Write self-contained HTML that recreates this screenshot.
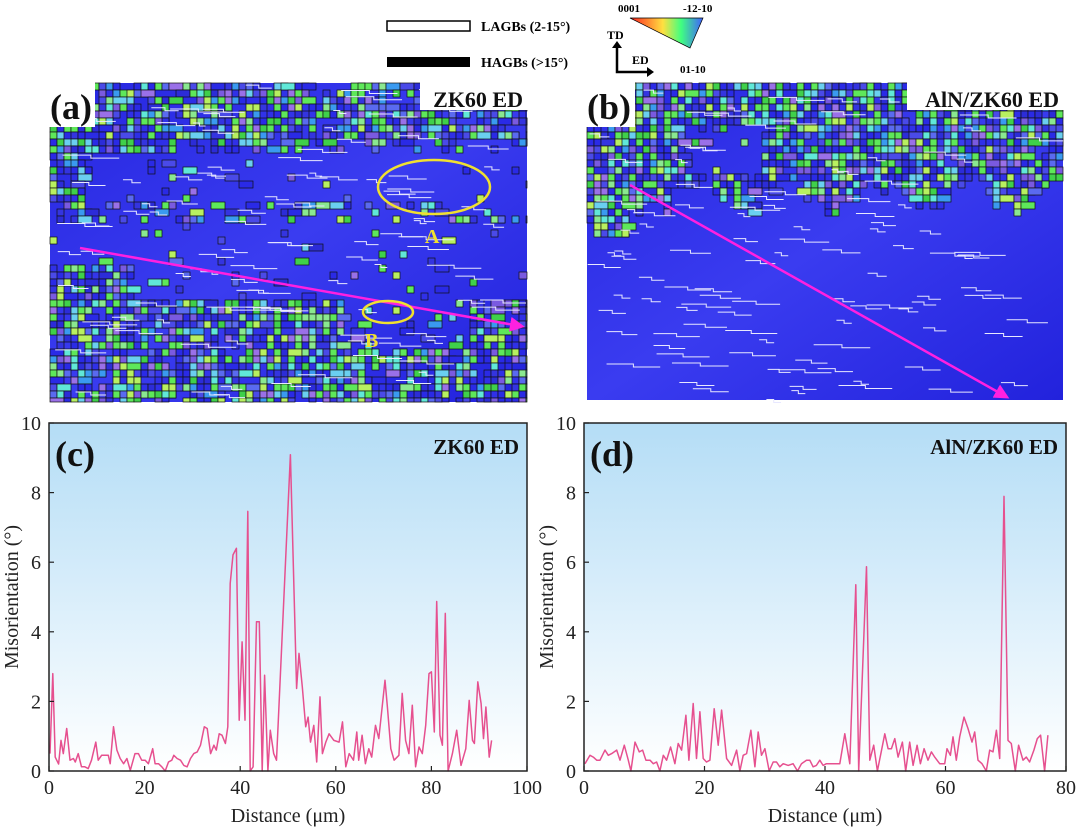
<!DOCTYPE html>
<html><head><meta charset="utf-8">
<style>
html,body{margin:0;padding:0;background:#fff;}
svg{display:block;font-family:"Liberation Serif",serif;}
</style></head>
<body>
<svg id="root" width="1080" height="829" viewBox="0 0 1080 829">
<defs>
<linearGradient id="bg" x1="0" y1="0" x2="0" y2="1">
<stop offset="0" stop-color="#b4ddf6"/><stop offset="1" stop-color="#ffffff"/>
</linearGradient>
<linearGradient id="ipf" x1="0" y1="0" x2="1" y2="0">
<stop offset="0" stop-color="#ff2020"/><stop offset="0.45" stop-color="#ffe040"/><stop offset="0.7" stop-color="#40ff80"/><stop offset="1" stop-color="#4060ff"/>
</linearGradient>
<linearGradient id="blueg" x1="0" y1="0" x2="1" y2="1">
<stop offset="0" stop-color="#2626e0"/><stop offset="0.5" stop-color="#3a3cf0"/><stop offset="1" stop-color="#2222dc"/>
</linearGradient>
<marker id="arrow" markerWidth="6" markerHeight="6" refX="4" refY="3" orient="auto"><path d="M0,0 L6,3 L0,6 z" fill="#ff20e0"/></marker>
</defs>

<g>
<rect x="387" y="21" width="83" height="10" fill="#fff" stroke="#000" stroke-width="1.5"/>
<text x="481" y="31" font-size="14" font-weight="bold">LAGBs (2-15°)</text>
<rect x="387" y="57" width="83" height="10" fill="#000"/>
<text x="481" y="67" font-size="14" font-weight="bold">HAGBs (&gt;15°)</text>
</g>
<g>
<polygon points="630,18 703,18 690,48" fill="url(#ipf)" stroke="#000" stroke-width="0.7"/>
<text x="618" y="12" font-size="11" font-weight="bold">0001</text>
<text x="683" y="12" font-size="11" font-weight="bold">-12-10</text>
<text x="680" y="73" font-size="11" font-weight="bold">01-10</text>
<text x="607" y="39" font-size="12" font-weight="bold">TD</text>
<text x="632" y="64" font-size="12" font-weight="bold">ED</text>
<path d="M617,45 V72 H650" fill="none" stroke="#000" stroke-width="2.5"/>
<path d="M612,48 L617,41 L622,48 z M647,67 L654,72 L647,77 z" fill="#000"/>
</g>

<g id="mapA"></g>
<g id="mapB"></g>

<g id="chartC"></g>
<g id="chartD"></g>
</svg>
<script>
// ---- chart (c) data ----
const cX = [0.2,0.8,1.3,2.0,2.5,3.0,3.7,4.4,5.1,5.5,6.1,6.8,7.5,8.2,8.9,9.8,10.3,11.0,11.7,12.4,12.8,13.5,14.2,14.9,15.6,16.3,17.0,18.0,18.7,19.4,20.1,20.8,21.7,22.2,22.9,23.6,24.3,25.0,25.7,26.1,26.8,27.5,28.2,28.9,29.6,30.3,31.0,31.7,32.5,33.1,33.8,34.5,35.0,35.6,36.2,36.9,37.4,37.9,38.5,39.2,39.8,40.4,41.0,41.6,42.1,42.7,43.4,44.0,44.6,45.1,45.8,46.3,47.0,47.6,50.5,51.8,52.3,53.0,53.7,54.2,54.7,55.4,56.0,56.7,57.2,57.9,58.6,59.6,60.7,61.4,62.1,62.8,63.7,64.4,64.8,65.5,66.2,66.9,67.5,68.3,69.0,70.3,70.8,71.5,72.2,73.2,73.9,74.6,75.3,76.0,76.7,77.4,78.1,78.8,79.5,80.0,80.6,81.1,81.8,82.3,82.9,83.5,84.4,85.3,86.2,87.2,87.9,88.6,89.0,89.7,90.4,90.9,91.4,92.1,92.6];
const cY = [0.5,2.8,0.4,0.2,0.88,0.5,1.22,0.31,0.36,0.26,0.5,0.12,0.12,0.07,0.31,0.83,0.31,0.45,0.45,0.45,0.21,1.27,0.6,0.36,0.21,0.36,0.02,0.5,0.5,0.31,0.31,0.21,0.64,0.21,0.21,0.12,0,0.26,0.31,0.45,0.36,0.31,0.16,0.12,0.36,0.5,0.55,0.74,1.27,1.22,0.5,0.74,0.6,1.07,1.03,0.79,1.27,5.39,6.21,6.4,1.46,3.71,1.46,7.46,0,0.12,4.29,4.29,0,2.75,0,1.17,0.5,0.31,9.09,2.37,3.38,2.42,1.27,1.55,0.83,1.31,0.26,2.13,0.5,0.83,1.07,0.88,0.83,1.41,0.12,0.5,0.31,1.12,0.31,1.03,0.21,0.64,0.4,1.31,0.93,2.61,1.84,0.64,0.31,0.45,2.23,0.88,0.5,1.89,0.12,0.69,0.5,1.31,2.8,2.85,1.12,4.87,1.03,0.74,4.53,0,0.5,1.17,0.16,0.64,2.03,0.88,0.79,2.56,1.94,0.93,1.84,0.4,0.88];
const cXTicks = [0,20,40,60,80,100];
// ---- chart (d) data ----
const dX = [0.17,1.0,1.55,2.1,2.65,3.48,4.04,4.59,5.42,5.97,6.69,7.35,7.79,8.46,9.18,9.73,10.28,10.95,11.5,12.05,12.6,13.16,13.71,14.37,15.09,15.64,16.2,16.92,17.41,18.13,18.68,19.24,19.79,20.34,20.9,21.61,22.28,22.83,23.66,24.49,25.32,25.87,26.42,26.98,27.7,28.36,28.91,29.46,30.02,30.74,31.4,31.95,32.5,33.06,33.89,34.71,35.43,36.1,36.93,37.48,38.03,38.58,39.14,39.69,40.24,41.07,42.45,43.28,44.11,45.11,45.6,46.88,47.43,48.09,48.7,49.92,50.47,51.02,51.58,52.13,52.85,53.4,54.06,54.62,55.28,55.83,56.44,57.1,57.66,58.21,59.04,59.87,60.25,60.81,61.25,61.8,62.35,63.07,63.74,64.4,64.84,65.4,66.06,66.78,67.33,67.88,68.44,68.99,69.71,70.37,70.92,71.59,72.14,72.86,73.41,73.96,74.68,75.24,75.79,76.45,77.0];
const dY = [0.21,0.45,0.4,0.31,0.31,0.6,0.45,0.5,0.6,0.31,0.74,0.31,0,0.83,0.55,0.6,0.31,0.31,0.21,0.26,0,0.45,0.31,0.69,0.21,0.79,0.6,1.6,0.31,1.94,0.36,1.7,0.36,0.26,0.31,1.79,0.74,1.75,0.36,0.16,0.6,0,0.45,0.5,1.17,0.12,1.12,0.45,0.64,0,0.26,0.26,0.12,0.21,0.16,0.21,0,0.21,0.31,0.31,0.12,0.16,0.31,0.16,0.21,0.21,0.21,1.07,0.21,5.35,0,5.87,0.31,0.74,0,1.07,0.64,0.64,0.93,0.4,0.83,0,0.83,0.16,0.74,0.21,0.64,0.31,0.55,0.4,0.21,0.21,0.64,0.45,0.98,0.31,0.98,1.55,1.22,0.83,1.12,0.31,0.21,0,0.6,0.55,1.17,0.36,7.89,0.88,0.79,0,0.74,0.31,0.4,0.26,0.6,0.93,1.03,0,1.03];
const dXTicks = [0,20,40,60,80];
const yTicks = [0,2,4,6,8,10];

const NS = 'http://www.w3.org/2000/svg';
function mk(tag, attrs, parent){const e=document.createElementNS(NS,tag);for(const k in attrs)e.setAttribute(k,attrs[k]);parent.appendChild(e);return e;}

function drawChart(g, xs, ys, xTicks, xMax, x0, x1, label, title){
  const y0=771, y1=423;
  const sx=v=>x0+(v/xMax)*(x1-x0);
  const sy=v=>y0-(v/10)*(y0-y1);
  const bg=mk('rect',{x:x0,y:y1,width:x1-x0,height:y0-y1,fill:'url(#bg)'},g);
  
  
  let d='';
  xs.forEach((v,i)=>{d+=(i?'L':'M')+sx(v).toFixed(1)+','+sy(ys[i]).toFixed(1);});
  const line=mk('path',{d:d,fill:'none',stroke:'#e6508f','stroke-width':1.5,'stroke-linejoin':'round'},g);
  
  
  const fr=mk('rect',{x:x0,y:y1,width:x1-x0,height:y0-y1,fill:'none',stroke:'#222','stroke-width':1.5},g);
  
  
  xTicks.forEach(t=>{
    mk('line',{x1:sx(t),x2:sx(t),y1:y0,y2:y0-5,stroke:'#222','stroke-width':1.2},g);
    const tx=mk('text',{x:sx(t),y:y0+23,'font-size':20,'text-anchor':'middle',fill:'#222'},g);
    tx.textContent=t;
    
    
  });
  yTicks.forEach(t=>{
    mk('line',{x1:x0,x2:x0+5,y1:sy(t),y2:sy(t),stroke:'#222','stroke-width':1.2},g);
    const ty=mk('text',{x:x0-8,y:sy(t)+7,'font-size':20,'text-anchor':'end',fill:'#222'},g);
    ty.textContent=t;
    
    
  });
  const xt=mk('text',{x:(x0+x1)/2,y:822,'font-size':20,'text-anchor':'middle',fill:'#222'},g);
  xt.textContent='Distance (μm)';
  
  
  const yt=mk('text',{x:0,y:0,'font-size':20,'text-anchor':'middle',fill:'#222',transform:`translate(${x0-31},${(y0+y1)/2}) rotate(-90)`},g);
  yt.textContent='Misorientation (°)';
  
  
  const pl=mk('text',{x:x0+6,y:466,'font-size':36,'font-weight':'bold',fill:'#111'},g);
  pl.textContent=label;
  
  
  const ttl=mk('text',{x:x1-8,y:454,'font-size':21,'font-weight':'bold','text-anchor':'end',fill:'#111'},g);
  ttl.textContent=title;
  
  
}
drawChart(document.getElementById('chartC'),cX,cY,cXTicks,100,49,527,'(c)','ZK60 ED');
drawChart(document.getElementById('chartD'),dX,dY,dXTicks,80,584,1066,'(d)','AlN/ZK60 ED');

// ---- EBSD maps (decorative) ----
let seed=7;
function rnd(){seed=(seed*16807)%2147483647;return seed/2147483647;}
const grainCols=['#5ee85a','#3fd04a','#60e8d8','#7a5ae0','#5a6af0','#2a2ae6','#8ae890','#9a70e8','#3a9af0','#b8f060','#2a2ae6','#3030e8','#5ee85a','#6acff0','#3434e0','#4a4ae8','#2c2cd8'];
function drawMap(g,x0,y0,x1,y1,isGrain,label,labelBoxX,cutX,arrow){
  const bgr=mk('rect',{x:x0,y:y0,width:x1-x0,height:y1-y0,fill:'url(#blueg)'},g);
  
  
  const cs=7;
  for(let y=y0;y<y1;y+=cs){for(let x=x0;x<x1;x+=cs){
    if(!isGrain(x,y))continue;
    const c=grainCols[Math.floor(rnd()*grainCols.length)];
    const w=cs*(rnd()<0.3?2:1);
    mk('rect',{x:x,y:y,width:Math.min(w,x1-x),height:Math.min(cs,y1-y),fill:c,stroke:'#111','stroke-width':0.7},g);
  }}
  for(let i=0;i<110;i++){
    const yy=y0+rnd()*(y1-y0), xx=x0+rnd()*(x1-x0-40), w=12+rnd()*45;
    mk('path',{d:`M${xx},${yy} h${w/2} v3 h${w/2}`,fill:'none',stroke:'#e8e8ff','stroke-width':1},g);
  }
  mk('rect',{x:x0-2,y:y0-3,width:cutX-x0+2,height:47,fill:'#fff'},g);
  mk('rect',{x:labelBoxX,y:y0-3,width:x1-labelBoxX+2,height:30,fill:'#fff'},g);
  const pl=mk('text',{x:x0,y:y0+36,'font-size':36,'font-weight':'bold',fill:'#111'},g);
  pl.textContent=label[0];
  
  
  const tt=mk('text',{x:x1-4,y:y0+24,'font-size':22,'font-weight':'bold','text-anchor':'end',fill:'#111'},g);
  tt.textContent=label[1];
  
  
  const ar=mk('line',{x1:arrow[0],y1:arrow[1],x2:arrow[2],y2:arrow[3],stroke:'#ff20e0','stroke-width':2.5,'marker-end':'url(#arrow)'},g);
  
  
}
drawMap(document.getElementById('mapA'),50,83,527,402,(x,y)=>{
  if(y<135) return rnd()<0.75;
  if(y<150) return x<150||rnd()<0.35;
  if(y<200) return (x<85&&rnd()<0.8)||rnd()<0.04;
  if(y<220) return rnd()<0.35;
  if(y<265) return rnd()<0.03;
  if(y<300) return (x<130&&rnd()<0.8)||rnd()<0.05;
  if(x>340&&x<470&&y<345) return rnd()<0.1;
  return rnd()<0.75;
},['(a)','ZK60 ED'],420,95,[80,248,520,326]);
drawMap(document.getElementById('mapB'),587,83,1063,400,(x,y)=>{
  if(x<625&&y<235) return rnd()<0.85;
  const edge=185+14*Math.sin(x*0.07)+8*Math.sin(x*0.23)+rnd()*12;
  if(y<edge) return (x>680&&x<760&&y>120&&y<170)?rnd()<0.1:rnd()<0.88;
  return false;
},['(b)','AlN/ZK60 ED'],907,635,[630,185,1005,396]);
const a=document.getElementById('mapA');
const e1=mk('ellipse',{cx:434,cy:187,rx:56,ry:27,fill:'none',stroke:'#f0e030','stroke-width':2.5},a);


const e2=mk('ellipse',{cx:388,cy:312,rx:25,ry:11,fill:'none',stroke:'#f0e030','stroke-width':2.5},a);


const la=mk('text',{x:425,y:243,'font-size':20,'font-weight':'bold',fill:'#f0e030'},a);
la.textContent='A';


const lb=mk('text',{x:365,y:347,'font-size':20,'font-weight':'bold',fill:'#f0e030'},a);
lb.textContent='B';


</script>
</body></html>
